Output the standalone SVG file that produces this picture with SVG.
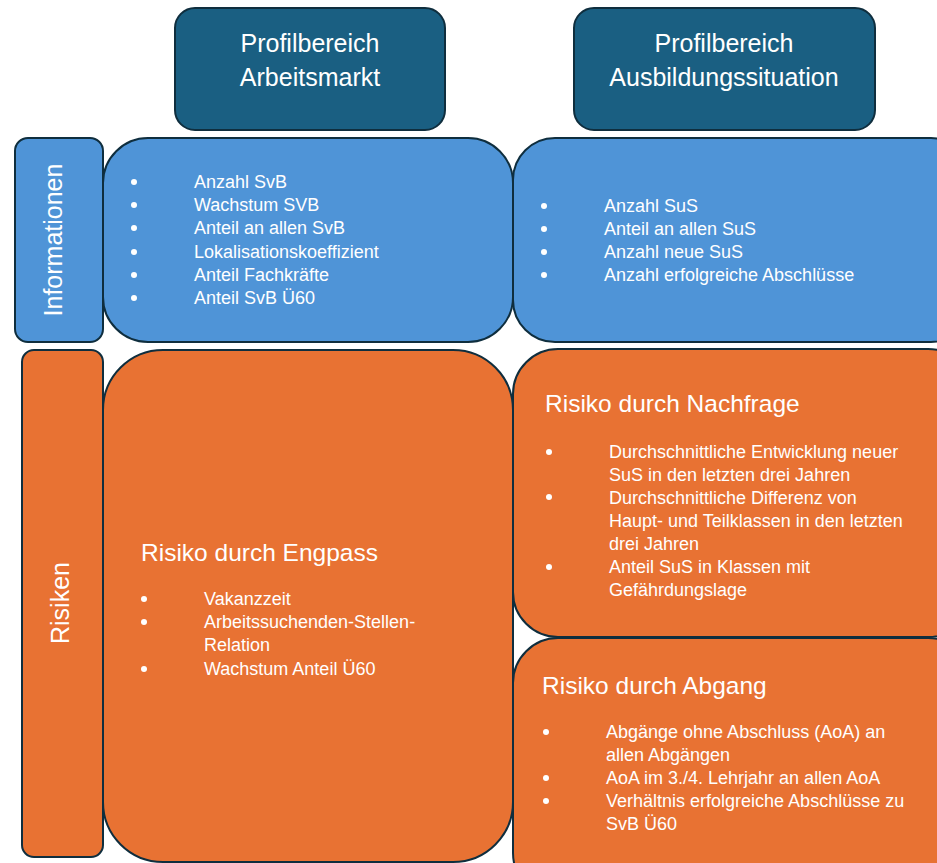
<svg xmlns="http://www.w3.org/2000/svg" width="937" height="863" viewBox="0 0 937 863">
<style>
.hdr{fill:#1a5f82;stroke:#0f2e3e;stroke-width:2}
.blue{fill:#4f94d7;stroke:#0f2e3e;stroke-width:2}
.orange{fill:#e87233;stroke:#0f2e3e;stroke-width:2}
text{font-family:"Liberation Sans",Arial,sans-serif;fill:#ffffff}
.ht{font-size:25px;text-anchor:middle}
.side{font-size:25px;text-anchor:middle}
.t{font-size:18px}
.ti{font-size:24.5px}
.dot{fill:#ffffff}
</style>
<rect width="937" height="863" fill="#ffffff"/>
<g id="header-arbeitsmarkt">
<rect class="hdr" x="175" y="8" width="270" height="122" rx="20"/>
<text class="ht" x="310" y="52">Profilbereich</text>
<text class="ht" x="310" y="86">Arbeitsmarkt</text>
</g>
<g id="header-ausbildung">
<rect class="hdr" x="574" y="8" width="301" height="122" rx="20"/>
<text class="ht" x="724" y="52">Profilbereich</text>
<text class="ht" x="724" y="86">Ausbildungssituation</text>
</g>
<g id="label-informationen">
<rect class="blue" x="15" y="138" width="88" height="204" rx="13"/>
<text class="side" transform="translate(62 240) rotate(-90)">Informationen</text>
</g>
<g id="info-arbeitsmarkt">
<rect class="blue" x="103" y="138" width="410" height="204" rx="45"/>
<g class="dot"><circle cx="134" cy="182" r="3"/><circle cx="134" cy="205" r="3"/><circle cx="134" cy="228" r="3"/><circle cx="134" cy="252" r="3"/><circle cx="134" cy="275" r="3"/><circle cx="134" cy="298" r="3"/></g>
<text class="t" x="194" y="188">Anzahl SvB</text>
<text class="t" x="194" y="211">Wachstum SVB</text>
<text class="t" x="194" y="234">Anteil an allen SvB</text>
<text class="t" x="194" y="258">Lokalisationskoeffizient</text>
<text class="t" x="194" y="281">Anteil Fachkräfte</text>
<text class="t" x="194" y="304">Anteil SvB Ü60</text>
</g>
<g id="info-ausbildung">
<rect class="blue" x="513" y="138" width="460" height="204" rx="42"/>
<g class="dot"><circle cx="544" cy="206" r="3"/><circle cx="544" cy="229" r="3"/><circle cx="544" cy="252" r="3"/><circle cx="544" cy="275" r="3"/></g>
<text class="t" x="604" y="212">Anzahl SuS</text>
<text class="t" x="604" y="235">Anteil an allen SuS</text>
<text class="t" x="604" y="258">Anzahl neue SuS</text>
<text class="t" x="604" y="281">Anzahl erfolgreiche Abschlüsse</text>
</g>
<g id="label-risiken">
<rect class="orange" x="22" y="350" width="81" height="507" rx="12"/>
<text class="side" transform="translate(69 603) rotate(-90)">Risiken</text>
</g>
<g id="risiko-engpass">
<rect class="orange" x="103" y="350" width="410" height="512" rx="60"/>
<text class="ti" x="141" y="561">Risiko durch Engpass</text>
<g class="dot"><circle cx="144" cy="599" r="3"/><circle cx="144" cy="622" r="3"/><circle cx="144" cy="669" r="3"/></g>
<text class="t" x="204" y="605">Vakanzzeit</text>
<text class="t" x="204" y="628">Arbeitssuchenden-Stellen-</text>
<text class="t" x="204" y="651">Relation</text>
<text class="t" x="204" y="675">Wachstum Anteil Ü60</text>
</g>
<g id="risiko-nachfrage">
<rect class="orange" x="513" y="349" width="460" height="288" rx="45"/>
<text class="ti" x="545" y="412">Risiko durch Nachfrage</text>
<g class="dot"><circle cx="549" cy="452" r="3"/><circle cx="549" cy="497" r="3"/><circle cx="549" cy="567" r="3"/></g>
<text class="t" x="609" y="458">Durchschnittliche Entwicklung neuer</text>
<text class="t" x="609" y="481">SuS in den letzten drei Jahren</text>
<text class="t" x="609" y="504">Durchschnittliche Differenz von</text>
<text class="t" x="609" y="527">Haupt- und Teilklassen in den letzten</text>
<text class="t" x="609" y="550">drei Jahren</text>
<text class="t" x="609" y="573">Anteil SuS in Klassen mit</text>
<text class="t" x="609" y="596">Gefährdungslage</text>
</g>
<g id="risiko-abgang">
<rect class="orange" x="513" y="638" width="460" height="260" rx="45"/>
<text class="ti" x="542" y="694">Risiko durch Abgang</text>
<g class="dot"><circle cx="546" cy="732" r="3"/><circle cx="546" cy="778" r="3"/><circle cx="546" cy="801" r="3"/></g>
<text class="t" x="606" y="738">Abgänge ohne Abschluss (AoA) an</text>
<text class="t" x="606" y="761">allen Abgängen</text>
<text class="t" x="606" y="784">AoA im 3./4. Lehrjahr an allen AoA</text>
<text class="t" x="606" y="807">Verhältnis erfolgreiche Abschlüsse zu</text>
<text class="t" x="606" y="830">SvB Ü60</text>
</g>
<g id="connectors"></g>
</svg>
